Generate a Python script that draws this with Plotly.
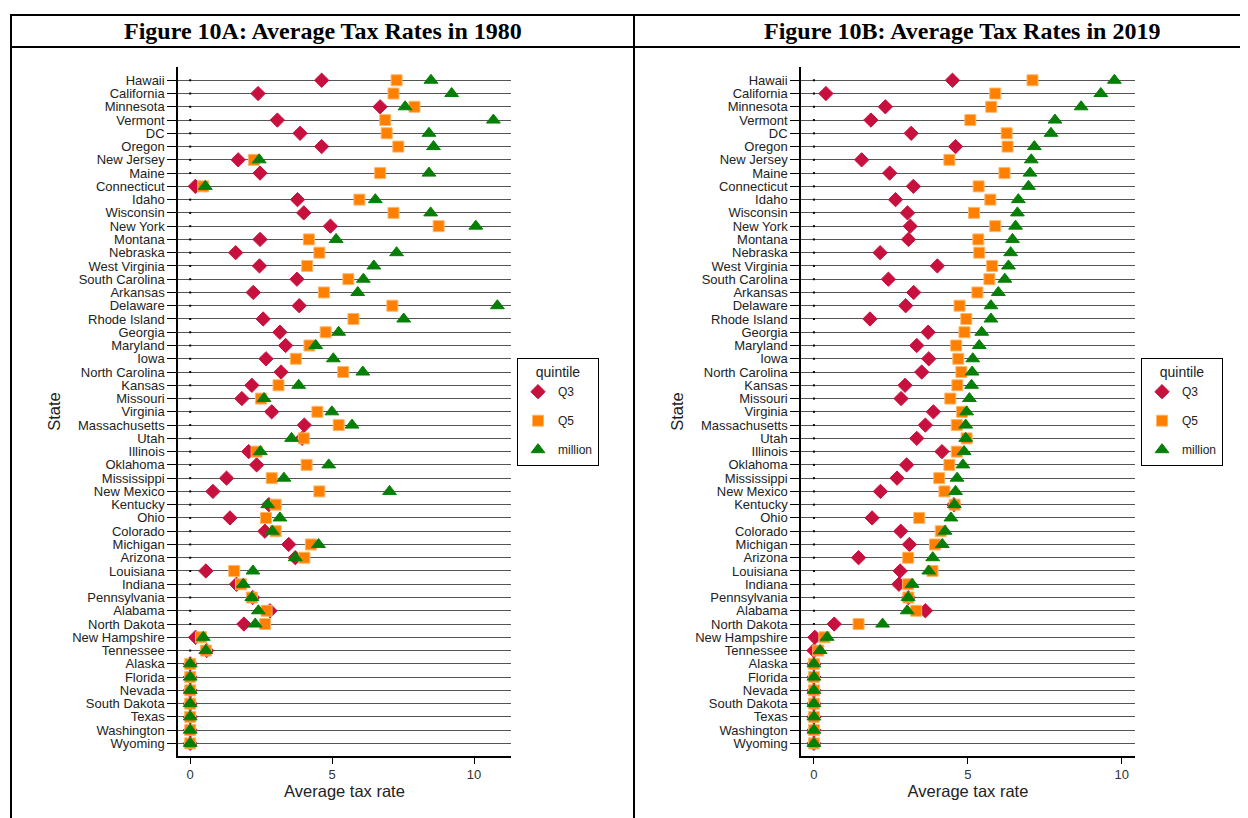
import plotly.graph_objs as go

# states, top to bottom
states = ['Hawaii', 'California', 'Minnesota', 'Vermont', 'DC', 'Oregon',
          'New Jersey', 'Maine', 'Connecticut', 'Idaho', 'Wisconsin',
          'New York', 'Montana', 'Nebraska', 'West Virginia',
          'South Carolina', 'Arkansas', 'Delaware', 'Rhode Island',
          'Georgia', 'Maryland', 'Iowa', 'North Carolina', 'Kansas',
          'Missouri', 'Virginia', 'Massachusetts', 'Utah', 'Illinois',
          'Oklahoma', 'Mississippi', 'New Mexico', 'Kentucky', 'Ohio',
          'Colorado', 'Michigan', 'Arizona', 'Louisiana', 'Indiana',
          'Pennsylvania', 'Alabama', 'North Dakota', 'New Hampshire',
          'Tennessee', 'Alaska', 'Florida', 'Nevada', 'South Dakota',
          'Texas', 'Washington', 'Wyoming']

# 1980 average tax rates
q3_1980 = [4.63, 2.39, 6.69, 3.07, 3.87, 4.63, 1.69, 2.46, 0.18, 3.78,
           4.00, 4.94, 2.46, 1.60, 2.44, 3.76, 2.22, 3.84, 2.57, 3.16,
           3.36, 2.67, 3.20, 2.17, 1.82, 2.87, 4.02, 3.94, 2.06, 2.34,
           1.28, 0.80, 2.77, 1.40, 2.63, 3.47, 3.70, 0.55, 1.63, 2.20,
           2.81, 1.89, 0.19, 0.58, 0, 0, 0, 0, 0, 0, 0]
q5_1980 = [7.27, 7.16, 7.90, 6.87, 6.92, 7.33, 2.24, 6.69, 0.46, 5.96,
           7.16, 8.75, 4.18, 4.55, 4.12, 5.57, 4.71, 7.12, 5.75, 4.77,
           4.20, 3.72, 5.39, 3.11, 2.49, 4.48, 5.23, 4.00, 2.34, 4.10,
           2.87, 4.55, 3.01, 2.67, 3.01, 4.25, 4.02, 1.55, 1.79, 2.17,
           2.69, 2.64, 0.38, 0.55, 0, 0, 0, 0, 0, 0, 0]
mil_1980 = [8.48, 9.21, 7.57, 10.68, 8.41, 8.57, 2.43, 8.41, 0.53, 6.52,
            8.47, 10.06, 5.14, 7.27, 6.47, 6.10, 5.90, 10.82, 7.52, 5.23,
            4.42, 5.04, 6.08, 3.82, 2.60, 4.99, 5.70, 3.57, 2.47, 4.88,
            3.30, 7.02, 2.73, 3.16, 2.89, 4.52, 3.70, 2.21, 1.87, 2.17,
            2.40, 2.29, 0.46, 0.55, 0, 0, 0, 0, 0, 0, 0]

# 2019 average tax rates
q3_2019 = [4.50, 0.39, 2.32, 1.85, 3.16, 4.60, 1.55, 2.46, 3.23, 2.65,
           3.04, 3.13, 3.07, 2.15, 4.01, 2.42, 3.24, 2.98, 1.82, 3.71,
           3.34, 3.73, 3.50, 2.96, 2.83, 3.88, 3.62, 3.34, 4.16, 3.01,
           2.70, 2.16, 4.55, 1.89, 2.82, 3.10, 1.45, 2.80, 2.76, 3.07,
           3.62, 0.66, 0.03, 0.00, 0, 0, 0, 0, 0, 0, 0]
q5_2019 = [7.10, 5.89, 5.76, 5.08, 6.26, 6.29, 4.40, 6.19, 5.35, 5.73,
           5.20, 5.89, 5.34, 5.37, 5.79, 5.70, 5.31, 4.73, 4.95, 4.89,
           4.62, 4.69, 4.79, 4.66, 4.43, 4.81, 4.64, 4.96, 4.64, 4.40,
           4.07, 4.24, 4.57, 3.42, 4.12, 3.93, 3.06, 3.85, 3.06, 3.07,
           3.32, 1.45, 0.34, 0.14, 0, 0, 0, 0, 0, 0, 0]
mil_2019 = [9.76, 9.32, 8.68, 7.83, 7.70, 7.16, 7.06, 7.02, 6.97, 6.64,
            6.61, 6.55, 6.45, 6.39, 6.32, 6.20, 5.99, 5.75, 5.75, 5.45,
            5.37, 5.16, 5.14, 5.12, 5.05, 4.96, 4.93, 4.93, 4.88, 4.84,
            4.65, 4.60, 4.56, 4.45, 4.26, 4.17, 3.86, 3.73, 3.19, 3.06,
            3.03, 2.23, 0.43, 0.20, 0, 0, 0, 0, 0, 0, 0]

# small dot drawn at zero on every row
baseline = [0] * len(states)

# the page body has an 8px margin, so the figure is a bit smaller
OFF = 8
W, H = 1240, 810
SANS = 'Liberation Sans, Arial, sans-serif'

series = [
    ('Q3', 'diamond', 11, '#C8103E', '#C8103E'),
    ('Q5', 'square', 11, '#FF7F00', '#FDB76A'),
    ('million', 'triangle-up', 12, '#067F06', '#067F06'),
]

fig = go.Figure()


def add_panel(fig, values, xa, ya, legend):
    fig.add_trace(go.Scatter(
        x=baseline, y=states, mode='markers', xaxis=xa, yaxis=ya,
        marker=dict(symbol='square', size=2, color='black'),
        showlegend=False, hoverinfo='skip'))
    for (name, symbol, size, color, edge), vals in zip(series, values):
        fig.add_trace(go.Scatter(
            x=vals, y=states, mode='markers', name=name,
            xaxis=xa, yaxis=ya, legend=legend,
            legendgroup=legend + name,
            marker=dict(symbol=symbol, size=size, color=color,
                        line=dict(color=edge, width=1))))


add_panel(fig, [q3_1980, q5_1980, mil_1980], 'x', 'y', 'legend')
add_panel(fig, [q3_2019, q5_2019, mil_2019], 'x2', 'y2', 'legend2')


# screen pixel -> paper fraction
def px_x(p):
    return (p - OFF) / W


def px_y(p):
    return 1 - (p - OFF) / H


ydom = [px_y(756), px_y(67)]


def xaxis_cfg(dom, rng, anchor):
    return dict(domain=dom, range=rng, anchor=anchor, tickvals=[0, 5, 10],
                ticks='outside', ticklen=6, tickcolor='black',
                showline=True, linecolor='black', linewidth=1.5,
                showgrid=False, zeroline=False,
                tickfont=dict(family=SANS, size=13, color='#333'),
                title=dict(text='Average tax rate', standoff=3,
                           font=dict(family=SANS, size=16.5, color='#222')))


def yaxis_cfg(dom, anchor):
    return dict(domain=dom, anchor=anchor, type='category',
                categoryorder='array', categoryarray=states,
                tickmode='array', tickvals=states, ticktext=states,
                range=[50.95, -1.0],
                ticks='outside', ticklen=9, tickcolor='black',
                showline=True, linecolor='black', linewidth=1.5,
                showgrid=True, gridcolor='#555555', gridwidth=1,
                tickfont=dict(family=SANS, size=13, color='#222'),
                title=dict(text='State', standoff=7,
                           font=dict(family=SANS, size=16.5, color='#222')))


legend_cfg = dict(
    bordercolor='black', borderwidth=1, bgcolor='white',
    title=dict(text='quintile', side='top center',
               font=dict(family=SANS, size=14, color='#222')),
    font=dict(family=SANS, size=12, color='#222'),
    tracegroupgap=10, itemwidth=30, xanchor='left', yanchor='top')

fig.update_layout(
    width=W, height=H,
    margin=dict(l=0, r=0, t=0, b=0),
    paper_bgcolor='white', plot_bgcolor='white',
    xaxis=xaxis_cfg([px_x(178), px_x(511)], [-0.43, 11.3], 'y'),
    yaxis=yaxis_cfg(ydom, 'x'),
    xaxis2=xaxis_cfg([px_x(801), px_x(1135)], [-0.42, 10.43], 'y2'),
    yaxis2=yaxis_cfg(ydom, 'x2'),
    legend=dict(legend_cfg, x=px_x(517), y=px_y(358)),
    legend2=dict(legend_cfg, x=px_x(1141), y=px_y(358)),
)

# table frame around the two figures
frame = [
    (10, 15, 1248, 15), (10, 47, 1248, 47),
    (11, 15, 11, 818), (634, 15, 634, 818), (1245, 15, 1245, 818),
]
for x0, y0, x1, y1 in frame:
    fig.add_shape(type='line', xref='paper', yref='paper',
                  x0=px_x(x0), y0=px_y(y0), x1=px_x(x1), y1=px_y(y1),
                  line=dict(color='black', width=2))

headers = [('Figure 10A: Average Tax Rates in 1980', 323),
           ('Figure 10B: Average Tax Rates in 2019', 962)]
for text, cx in headers:
    fig.add_annotation(text='<b>' + text + '</b>', xref='paper', yref='paper',
                       x=px_x(cx), y=px_y(31), showarrow=False,
                       xanchor='center', yanchor='middle',
                       font=dict(family='Liberation Serif, Times New Roman, serif',
                                 size=24, color='black'))

fig.write_html('out.html')
